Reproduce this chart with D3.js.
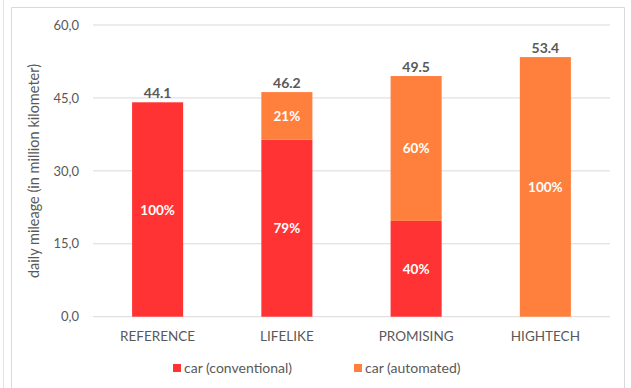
<!DOCTYPE html>
<html>
<head>
<meta charset="utf-8">
<script src="https://cdn.jsdelivr.net/npm/d3@7"></script>
<style>
  body { margin: 0; background: #fff; }
  text { font-family: Lato, "Open Sans", sans-serif; }
</style>
</head>
<body>
<div id="chart"></div>
<script>
// Chart data
const scenarios = ["REFERENCE", "LIFELIKE", "PROMISING", "HIGHTECH"];
const conventional = [44.1, 36.4, 19.7, 0];
const automated = [0, 9.8, 29.8, 53.4];
const totals = ["44.1", "46.2", "49.5", "53.4"];
const convShare = ["100%", "79%", "40%", ""];
const autoShare = ["", "21%", "60%", "100%"];
const yTicks = [0, 15, 30, 45, 60];
const seriesNames = ["car (conventional)", "car (automated)"];

const colors = ["#ff3333", "#ff7f3d"];
const width = 631, height = 388;
const margin = { top: 25, right: 21, bottom: 71, left: 93 };
const w = width - margin.left - margin.right;
const h = 316.7 - margin.top;

const svg = d3.select("#chart").append("svg")
    .attr("width", width)
    .attr("height", height);

// Outer frames
svg.append("line").attr("x1", 3.5).attr("x2", 3.5).attr("y1", 0).attr("y2", height)
    .attr("stroke", "#e3e3e3");
svg.append("path")
    .attr("d", `M11.5,${height} V7.5 H624.5 V${height}`)
    .attr("fill", "none")
    .attr("stroke", "#d9d9d9");

const g = svg.append("g").attr("transform", `translate(${margin.left},${margin.top})`);

const x = d3.scaleBand().domain(scenarios).range([0, w])
    .paddingInner(0.605).paddingOuter(0.3025);
const y = d3.scaleLinear().domain([0, 60]).range([h, 0]);

// Gridlines
g.append("g").selectAll("line").data(yTicks).enter().append("line")
    .attr("x1", 0).attr("x2", w)
    .attr("y1", d => y(d)).attr("y2", d => y(d))
    .attr("stroke", "#d9d9d9");

// Y axis labels
const yAxis = g.append("g")
    .call(d3.axisLeft(y).tickValues(yTicks).tickSize(0).tickPadding(14)
        .tickFormat(d => d3.format(".1f")(d).replace(".", ",")));
yAxis.select(".domain").remove();
yAxis.selectAll("text").attr("font-size", 13).attr("fill", "#595959")
    .attr("font-family", "Lato, sans-serif");

// X axis labels
const xAxis = g.append("g").attr("transform", `translate(0,${h})`)
    .call(d3.axisBottom(x).tickSize(0).tickPadding(15));
xAxis.select(".domain").remove();
xAxis.selectAll("text").attr("font-size", 13.5).attr("fill", "#595959")
    .attr("font-family", "Lato, sans-serif");

// Y title
svg.append("text")
    .attr("transform", `translate(39,${171}) rotate(-90)`)
    .attr("text-anchor", "middle")
    .attr("font-size", 14.5)
    .attr("fill", "#595959")
    .text("daily mileage (in million kilometer)");

// Stacked bars
const rows = scenarios.map((s, i) => ({ key: s, conv: conventional[i], auto: automated[i] }));
const stacked = d3.stack().keys(["conv", "auto"])(rows);
const shares = [convShare, autoShare];

stacked.forEach((layer, li) => {
    const lg = g.append("g");
    lg.selectAll("rect").data(layer).enter().append("rect")
        .attr("x", d => x(d.data.key))
        .attr("width", x.bandwidth())
        .attr("y", d => y(d[1]))
        .attr("height", d => y(d[0]) - y(d[1]))
        .attr("fill", colors[li]);
    lg.selectAll("text").data(layer).enter().append("text")
        .attr("x", d => x(d.data.key) + x.bandwidth() / 2)
        .attr("y", d => (y(d[0]) + y(d[1])) / 2 + 5)
        .attr("text-anchor", "middle")
        .attr("font-size", 13.5)
        .attr("font-weight", "bold")
        .attr("fill", "#fff")
        .text((d, i) => shares[li][i]);
});

// Total labels
g.append("g").selectAll("text").data(rows).enter().append("text")
    .attr("x", d => x(d.key) + x.bandwidth() / 2)
    .attr("y", d => y(d.conv + d.auto) - 4)
    .attr("text-anchor", "middle")
    .attr("font-size", 14)
    .attr("font-weight", "bold")
    .attr("fill", "#595959")
    .text((d, i) => totals[i]);

// Legend
const legendX = [173, 354];
seriesNames.forEach((name, i) => {
    const lg = svg.append("g").attr("transform", `translate(${legendX[i]},364)`);
    lg.append("rect").attr("width", 8).attr("height", 8).attr("fill", colors[i]);
    lg.append("text").attr("x", 11).attr("y", 8.5)
        .attr("font-size", 14).attr("fill", "#595959").text(name);
});
</script>
</body>
</html>
